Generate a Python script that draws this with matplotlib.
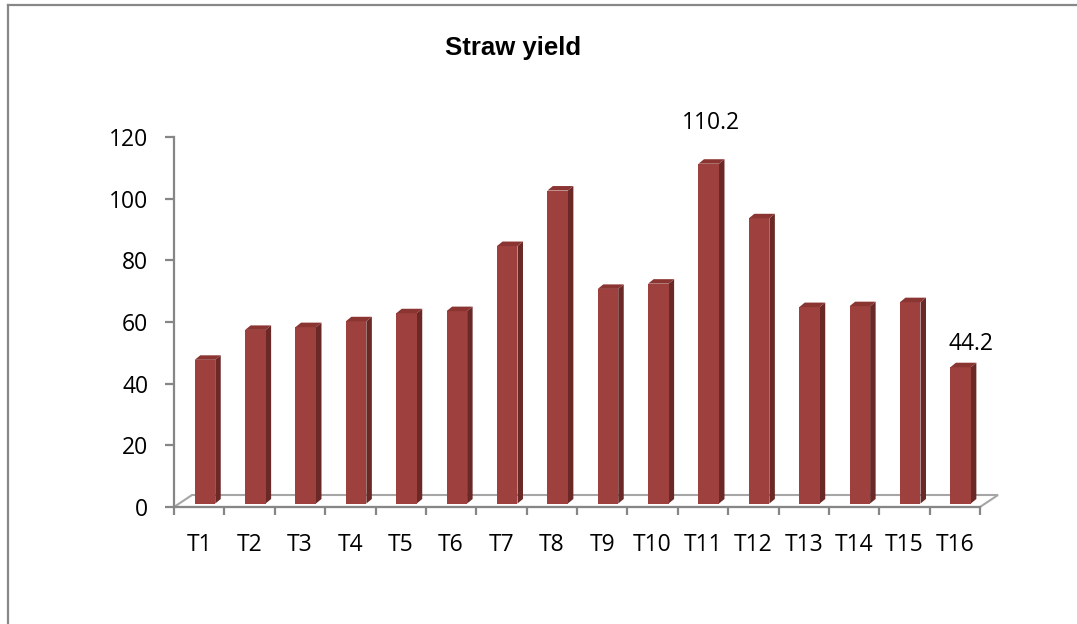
import matplotlib
matplotlib.use("Agg")
import matplotlib.pyplot as plt
from matplotlib.patches import Polygon
from matplotlib.lines import Line2D
from matplotlib.ticker import FixedLocator, NullFormatter, FixedFormatter

# ---- data -------------------------------------------------------------
categories = ["T1", "T2", "T3", "T4", "T5", "T6", "T7", "T8",
              "T9", "T10", "T11", "T12", "T13", "T14", "T15", "T16"]
straw_yield = [46.6, 56.3, 57.2, 59.1, 61.7, 62.4, 83.5, 101.5,
               69.6, 71.3, 110.2, 92.5, 63.7, 64.0, 65.3, 44.2]
y_ticks = [0, 20, 40, 60, 80, 100, 120]
labelled_bars = ["T11", "T16"]
title = "Straw yield"

# ---- styling ----------------------------------------------------------
W, H = 1077, 624
FRONT = "#9e403d"
SIDE = "#6a2826"
TOP = "#8a3532"
AXIS = "#868686"
FLOOR = "#a6a6a6"
LABEL_FONT = ["Open Sans", "DejaVu Sans"]
LABEL_SIZE = 16.5

fig = plt.figure(figsize=(W / 100, H / 100), dpi=100)
fig.patch.set_facecolor("white")

# outer chart frame (only top and left edges fall inside the canvas)
fig.add_artist(Line2D([8 / W, 8 / W], [0, 1 - 5 / H], transform=fig.transFigure,
                      color="#878787", lw=1.6))
fig.add_artist(Line2D([8 / W, 1], [1 - 5 / H, 1 - 5 / H], transform=fig.transFigure,
                      color="#878787", lw=1.6))

# plot area in pixels
left_px, right_px, top_px, bottom_px = 174, 980, 137, 507
ax = fig.add_axes([left_px / W, 1 - bottom_px / H,
                   (right_px - left_px) / W, (bottom_px - top_px) / H])
n = len(categories)
ymax = y_ticks[-1]
ax.set_xlim(0, n)
ax.set_ylim(0, ymax)
ax.set_facecolor("none")

px_x = (right_px - left_px) / n        # pixels per category
px_y = (bottom_px - top_px) / ymax     # pixels per value unit


def ux(px):
    return px / px_x


def uy(px):
    return px / px_y


# floor of the 3-D plot
fdx, fdy = ux(18), uy(12)
floor = Polygon([(0, 0), (n, 0), (n + fdx, fdy), (fdx, fdy)], closed=True,
                facecolor="white", edgecolor=FLOOR, lw=1.5, clip_on=False, zorder=1)
ax.add_patch(floor)

# bars: front face, right side, top
bar_w = ux(20.5)
shift = ux(5.8)
base = uy(3.5)
ddx, ddy = ux(5.5), uy(4.5)
centers = [i + 0.5 + shift for i in range(n)]
ax.bar(centers, straw_yield, width=bar_w, bottom=base, color=FRONT,
       edgecolor="none", zorder=3)
for c, v in zip(centers, straw_yield):
    xl, xr = c - bar_w / 2, c + bar_w / 2
    top = base + v
    ax.add_patch(Polygon([(xr, base), (xr, top), (xr + ddx, top + ddy), (xr + ddx, base + ddy)],
                         closed=True, facecolor=SIDE, edgecolor="none", zorder=2.9))
    ax.add_patch(Polygon([(xl, top), (xr, top), (xr + ddx, top + ddy), (xl + ddx, top + ddy)],
                         closed=True, facecolor=TOP, edgecolor="none", zorder=3.1))

# value labels
label_offsets = {"T11": (1.5, 29.5), "T16": (7.5, 17)}
for name in labelled_bars:
    i = categories.index(name)
    v = straw_yield[i]
    ox, oy = label_offsets[name]
    ax.annotate(f"{v:g}", xy=(centers[i], base + v), xytext=(ox, oy),
                textcoords="offset points", ha="center", va="center",
                fontsize=LABEL_SIZE, family=LABEL_FONT, color="black",
                annotation_clip=False, zorder=5)

# axes
for s in ("top", "right"):
    ax.spines[s].set_visible(False)
ax.spines["left"].set_color(AXIS)
ax.spines["left"].set_linewidth(1.6)
ax.spines["bottom"].set_color(AXIS)
ax.spines["bottom"].set_linewidth(1.6)
ax.spines["bottom"].set_zorder(4)

ax.set_yticks(y_ticks)
ax.set_yticklabels([str(t) for t in y_ticks])
ax.tick_params(axis="y", length=6.5, width=1.6, color=AXIS, pad=12,
               labelsize=LABEL_SIZE, labelcolor="black")

ax.xaxis.set_major_locator(FixedLocator(list(range(n + 1))))
ax.xaxis.set_major_formatter(NullFormatter())
ax.xaxis.set_minor_locator(FixedLocator([i + 0.5 for i in range(n)]))
ax.xaxis.set_minor_formatter(FixedFormatter(categories))
ax.tick_params(axis="x", which="major", length=5.5, width=1.6, color=AXIS)
ax.tick_params(axis="x", which="minor", length=0, pad=18.5, labelsize=LABEL_SIZE,
               labelcolor="black")

for lab in ax.get_yticklabels() + ax.get_xticklabels(minor=True):
    lab.set_family(LABEL_FONT)

fig.text(513 / W, 1 - 48 / H, title, ha="center", va="center",
         fontsize=18.5, fontweight="bold", family=["Liberation Sans", "DejaVu Sans"])

fig.savefig("out.png", dpi=100, facecolor="white")
